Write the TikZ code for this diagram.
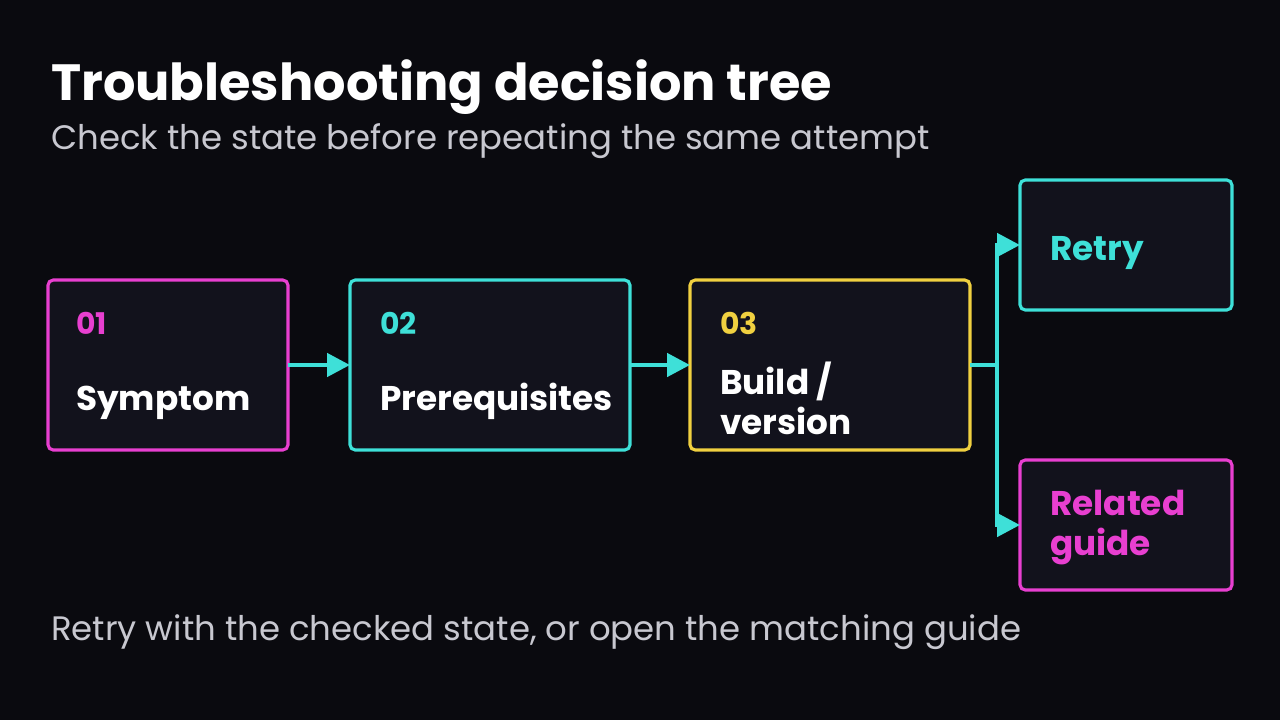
\documentclass[tikz,border=0pt]{standalone}
\usepackage{fontspec}
\setmainfont{Poppins}
\usetikzlibrary{arrows.meta,positioning}
\definecolor{bgc}{HTML}{0A0A0F}
\definecolor{boxc}{HTML}{12121C}
\definecolor{pinkc}{HTML}{E83FD0}
\definecolor{cyanc}{HTML}{3EE0D8}
\definecolor{yellowc}{HTML}{F0D040}
\definecolor{greyc}{HTML}{C8C8D0}
\tikzset{
  step/.style={draw=#1,line width=1.8pt,fill=boxc,rounded corners=3pt,anchor=north west,
    inner sep=0pt,outer sep=0pt},
  num/.style={anchor=base west,text=#1,font=\fontsize{17}{17}\selectfont\bfseries},
  lbl/.style={anchor=base west,text=white,align=left,font=\fontsize{19.5}{22.5}\selectfont\bfseries},
  link/.style={draw=cyanc,line width=2.6pt,-{Triangle[length=13pt,width=13pt]}}
}
\begin{document}
\begin{tikzpicture}[x=0.02cm,y=-0.02cm]
  \fill[bgc] (0,0) rectangle (1280,720);
  \useasboundingbox (0,0) rectangle (1280,720);

  \node[anchor=base west,text=white,font=\fontsize{29}{29}\selectfont\bfseries] (title) at (45,100) {Troubleshooting decision tree};
  \node[anchor=base west,text=greyc,font=\fontsize{19.3}{19}\selectfont] (sub) at (45,149) {Check the state before repeating the same attempt};
  \node[anchor=base west,text=greyc,font=\fontsize{19.3}{19}\selectfont] (foot) at (45,640) {Retry with the checked state, or open the matching guide};

  % steps
  \node[step=pinkc,minimum width=240*0.02cm,minimum height=170*0.02cm] (s1) at (48,280) {};
  \node[step=cyanc,minimum width=280*0.02cm,minimum height=170*0.02cm] (s2) at (350,280) {};
  \node[step=yellowc,minimum width=280*0.02cm,minimum height=170*0.02cm] (s3) at (690,280) {};
  \node[step=cyanc,minimum width=212*0.02cm,minimum height=130*0.02cm] (r1) at (1020,180) {};
  \node[step=pinkc,minimum width=212*0.02cm,minimum height=130*0.02cm] (r2) at (1020,460) {};

  \node[num=pinkc] (n1) at (70,334) {01};
  \node[num=cyanc] (n2) at (374,334) {02};
  \node[num=yellowc] (n3) at (714,334) {03};
  \node[lbl] (t1) at (70,410) {Symptom};
  \node[lbl] (t2) at (374,410) {Prerequisites};
  \node[lbl] (t3) at (714,434) {Build /\\version};
  \node[lbl,text=cyanc] (t4) at (1044,260) {Retry};
  \node[lbl,text=pinkc] (t5) at (1044,555) {Related\\guide};

  % connectors
  \draw[draw=cyanc,line width=2.6pt] (s3.east) -- ++(27,0) coordinate (fork);
  \draw[link] (s1.east) -- (s2.west);
  \draw[link] (s2.east) -- (s3.west);
  \draw[link] (fork) |- (r1.west);
  \draw[link] (fork) |- (r2.west);
\end{tikzpicture}
\end{document}
